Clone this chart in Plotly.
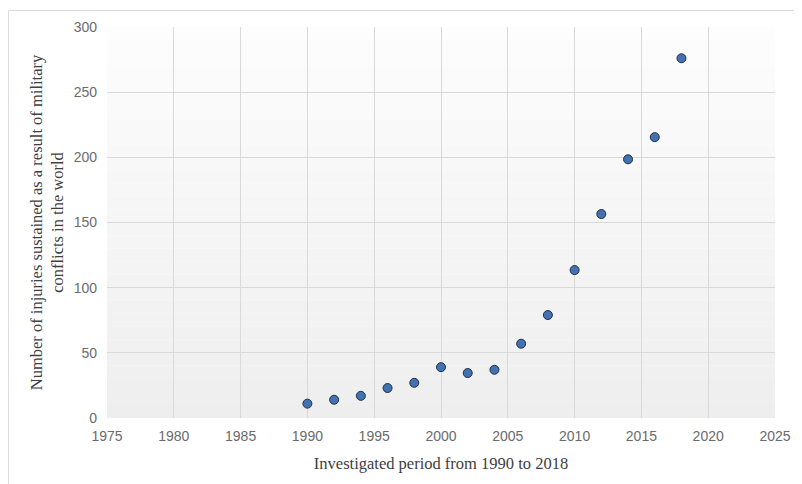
import plotly.graph_objects as go

years = [1990, 1992, 1994, 1996, 1998, 2000, 2002, 2004, 2006, 2008, 2010, 2012, 2014, 2016, 2018]
injuries = [11, 14, 17, 23, 27, 39, 34.5, 37, 57, 79, 113.5, 156.5, 198.5, 215.5, 276]
x_ticks = [1975, 1980, 1985, 1990, 1995, 2000, 2005, 2010, 2015, 2020, 2025]
y_ticks = [0, 50, 100, 150, 200, 250, 300]

W, H = 794, 476
L, R, T, B = 99, 27, 19, 66
pw, ph = W - L - R, H - T - B

fig = go.Figure()
fig.add_trace(go.Scatter(
    x=years, y=injuries, mode="markers",
    marker=dict(size=9, color="#4472b0", line=dict(color="#1c2f4a", width=1)),
    showlegend=False,
))

# vertical gradient background of the plot area (white top -> light gray bottom)
n = 30
shapes = []
for i in range(n):
    t = i / (n - 1)
    c = int(round(253 - (253 - 238) * t))
    shapes.append(dict(
        type="rect", xref="x domain", yref="y domain",
        x0=0, x1=1, y0=1 - (i + 1) / n, y1=1 - i / n,
        fillcolor=f"rgb({c},{c},{c})", line=dict(width=0), layer="below",
    ))
# outer chart border
shapes.append(dict(
    type="rect", xref="paper", yref="paper",
    x0=(0.5 - L) / pw, x1=1 + (R + 20) / pw, y0=-(B + 20) / ph, y1=1 + (T - 2.5) / ph,
    line=dict(color="#dcdcdc", width=1), fillcolor="rgba(0,0,0,0)", layer="below",
))

tickfont = dict(family="Liberation Sans, Arial, sans-serif", size=14, color="#6b6b6b")
titlefont = dict(family="Liberation Serif, Times New Roman, serif", size=16.5, color="#404040")

fig.update_layout(
    width=W, height=H,
    margin=dict(l=L, r=R, t=T, b=B),
    paper_bgcolor="white", plot_bgcolor="white",
    shapes=shapes,
    xaxis=dict(
        range=[1975, 2025], tickvals=x_ticks, ticktext=[str(v) for v in x_ticks],
        showgrid=True, gridcolor="#d9d9d9", gridwidth=1, zeroline=False,
        showline=False, ticks="", ticklen=0, ticklabelstandoff=8,
        tickfont=tickfont,
        title=dict(text="Investigated period from 1990 to 2018", font=titlefont, standoff=14),
    ),
    yaxis=dict(
        range=[0, 300], tickvals=y_ticks, ticktext=[str(v) for v in y_ticks],
        showgrid=True, gridcolor="#d9d9d9", gridwidth=1, zeroline=False,
        showline=False, ticks="", ticklen=0, ticklabelstandoff=9,
        tickfont=tickfont,
        title=dict(text="Number of injuries sustained as a result of military<br>conflicts in the world",
                   font=titlefont, standoff=5),
    ),
)

fig.write_html("out.html")
